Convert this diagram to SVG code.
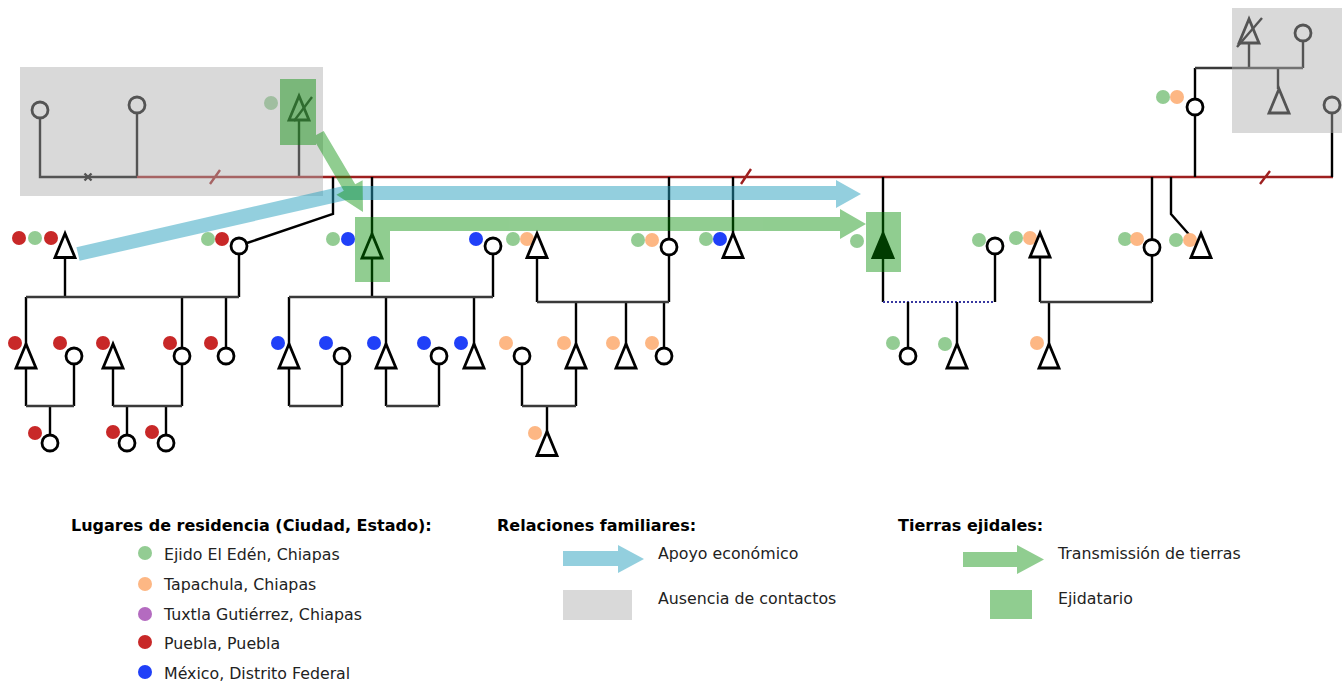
<svg xmlns="http://www.w3.org/2000/svg" xmlns:xlink="http://www.w3.org/1999/xlink" width="1343" height="683" viewBox="0 0 1343 683">
<style>
.ln{fill:none;stroke:#000;stroke-width:2.4}
.sib{fill:none;stroke:#3a3a3a;stroke-width:2.4}
.red{fill:none;stroke:#9e2020;stroke-width:2.4}
.dot{fill:none;stroke:#3838a0;stroke-width:2;stroke-dasharray:2,2}
.c{fill:#fff;stroke:#000;stroke-width:2.8}
.t{fill:#fff;stroke:#000;stroke-width:2.8;stroke-linejoin:miter}
.tf{fill:#000;stroke:#000;stroke-width:2.8}
.g{fill:#93cc93}.o{fill:#fdb784}.p{fill:#b46bc0}.r{fill:#c82828}.b{fill:#2040f8}
.grey{fill:#b0b0b0;opacity:0.48}
.green{fill:rgb(0,140,0)}
.blue{fill:rgb(40,160,190)}
.hd{font-family:"DejaVu Sans","Liberation Sans",sans-serif;font-weight:bold;font-size:16px;fill:#000}
.tx{font-family:"DejaVu Sans","Liberation Sans",sans-serif;font-size:15.8px;fill:#222}
</style>
<defs>
<path id="tri" d="M0,-12 L-10,12 L10,12 Z"/>
</defs>
<rect width="1343" height="683" fill="#fff"/>

<g id="connectors">
<path class="ln" d="M40,118 V177 H137 M137,113 V177 M299,120 V177"/>
<path class="ln" d="M84.5,173.5 L91.5,180.5 M91.5,173.5 L84.5,180.5"/>
<path class="red" d="M137,177 H1333 M210,184 L220,170 M741,184 L751,169 M1260,184 L1270,171"/>
<path class="ln" d="M333,177 V214 L247,243"/>
<path class="ln" d="M372,177 V234 M372,257 V297 M493,254 V297 M289,297 V345 M386,297 V345 M474,297 V345"/>
<path class="sib" d="M289,297 H493"/>
<path class="ln" d="M289,367 V406 M342,364 V406 M386,367 V406 M439,364 V406"/>
<path class="sib" d="M289,406 H342 M386,406 H439"/>
<path class="ln" d="M669,177 V238 M669,255 V302 M537,257 V302 M576,302 V345 M626,302 V345 M664,302 V348"/>
<path class="sib" d="M537,302 H669"/>
<path class="ln" d="M522,364 V406 M576,367 V406 M547,406 V432"/>
<path class="sib" d="M522,406 H576"/>
<path class="ln" d="M733,177 V234"/>
<path class="ln" d="M883,177 V302"/>
<path class="dot" d="M883,302 H995"/>
<path class="ln" d="M995,254 V302 M908,302 V348 M957,302 V345"/>
<path class="ln" d="M1152,177 V239 M1152,256 V302 M1040,257 V302 M1049,302 V345"/>
<path class="sib" d="M1040,302 H1152"/>
<path class="ln" d="M1171,177 V214 L1193,239"/>
<path class="ln" d="M1195,177 V115 M1195,99 V68 M1303,41 V68 M1249,43 V68 M1278,68 V89 M1332,177 V113"/>
<path class="sib" d="M1195,68 H1303"/>
<path class="ln" d="M65,257 V297 M239,254 V297 M26,297 V345 M182,297 V348 M226,297 V348"/>
<path class="sib" d="M26,297 H239"/>
<path class="ln" d="M26,367 V406 M74,364 V406 M50,406 V435 M113,367 V406 M182,364 V406 M127,406 V435 M166,406 V435"/>
<path class="sib" d="M26,406 H74 M113,406 H182"/>
</g>

<g id="n_g1a"><circle class="c" cx="40" cy="110" r="8"/></g>
<g id="n_g1b"><circle class="c" cx="137" cy="105" r="8"/></g>
<g id="n_g1c"><circle class="g" cx="271" cy="103" r="7"/><use href="#tri" class="t" x="299" y="108"/><path class="ln" d="M294,121 L312,97"/></g>

<g id="n_a1"><circle class="r" cx="19" cy="238" r="7"/><circle class="g" cx="35" cy="238" r="7"/><circle class="r" cx="51" cy="238" r="7"/><use href="#tri" class="t" x="65" y="245.5"/></g>
<g id="n_a2"><circle class="g" cx="208" cy="239" r="7"/><circle class="r" cx="222" cy="239" r="7"/><circle class="c" cx="239" cy="246" r="8"/></g>
<g id="n_a3"><circle class="g" cx="333" cy="239" r="7"/><circle class="b" cx="348" cy="239" r="7"/><use href="#tri" class="t" x="372" y="246"/></g>
<g id="n_a4"><circle class="b" cx="476" cy="239" r="7"/><circle class="c" cx="493" cy="246" r="8"/></g>
<g id="n_a5"><circle class="g" cx="513" cy="239" r="7"/><circle class="o" cx="527" cy="239" r="7"/><use href="#tri" class="t" x="537" y="245.5"/></g>
<g id="n_a6"><circle class="g" cx="638" cy="240" r="7"/><circle class="o" cx="652" cy="240" r="7"/><circle class="c" cx="669" cy="247" r="8"/></g>
<g id="n_a7"><circle class="g" cx="706" cy="239" r="7"/><circle class="b" cx="720" cy="239" r="7"/><use href="#tri" class="t" x="733" y="245.5"/></g>
<g id="n_a8"><circle class="g" cx="857" cy="241" r="7"/><use href="#tri" class="tf" x="883" y="245.5"/></g>
<g id="n_a9"><circle class="g" cx="979" cy="240" r="7"/><circle class="c" cx="995" cy="246" r="8"/></g>
<g id="n_a10"><circle class="g" cx="1016" cy="238" r="7"/><circle class="o" cx="1030" cy="238" r="7"/><use href="#tri" class="t" x="1040" y="245"/></g>
<g id="n_a11"><circle class="g" cx="1125" cy="239" r="7"/><circle class="o" cx="1137" cy="239" r="7"/><circle class="c" cx="1152" cy="247.5" r="8"/></g>
<g id="n_a12"><circle class="g" cx="1176" cy="240" r="7"/><circle class="o" cx="1190" cy="240" r="7"/><use href="#tri" class="t" x="1201" y="245.5"/></g>

<g id="n_r1"><use href="#tri" class="t" x="1249" y="31"/><path class="ln" d="M1237,47 L1262,18"/></g>
<g id="n_r2"><circle class="c" cx="1303" cy="33" r="8"/></g>
<g id="n_r3"><circle class="g" cx="1163" cy="97" r="7"/><circle class="o" cx="1177" cy="97" r="7"/><circle class="c" cx="1195" cy="107" r="8"/></g>
<g id="n_r4"><use href="#tri" class="t" x="1279" y="101"/></g>
<g id="n_r5"><circle class="c" cx="1332" cy="105" r="8"/></g>

<g id="n_b1"><circle class="r" cx="15" cy="343" r="7"/><use href="#tri" class="t" x="26" y="356"/></g>
<g id="n_b2"><circle class="r" cx="60" cy="343" r="7"/><circle class="c" cx="74" cy="356" r="8"/></g>
<g id="n_b3"><circle class="r" cx="103" cy="343" r="7"/><use href="#tri" class="t" x="113" y="356"/></g>
<g id="n_b4"><circle class="r" cx="170" cy="343" r="7"/><circle class="c" cx="182" cy="356" r="8"/></g>
<g id="n_b5"><circle class="r" cx="211" cy="343" r="7"/><circle class="c" cx="226" cy="356" r="8"/></g>
<g id="n_b6"><circle class="b" cx="278" cy="343" r="7"/><use href="#tri" class="t" x="289" y="356"/></g>
<g id="n_b7"><circle class="b" cx="326" cy="343" r="7"/><circle class="c" cx="342" cy="356" r="8"/></g>
<g id="n_b8"><circle class="b" cx="374" cy="343" r="7"/><use href="#tri" class="t" x="386" y="356"/></g>
<g id="n_b9"><circle class="b" cx="424" cy="343" r="7"/><circle class="c" cx="439" cy="356" r="8"/></g>
<g id="n_b10"><circle class="b" cx="461" cy="343" r="7"/><use href="#tri" class="t" x="474" y="356"/></g>
<g id="n_b11"><circle class="o" cx="506" cy="343" r="7"/><circle class="c" cx="522" cy="356" r="8"/></g>
<g id="n_b12"><circle class="o" cx="564" cy="343" r="7"/><use href="#tri" class="t" x="576" y="356"/></g>
<g id="n_b13"><circle class="o" cx="613" cy="343" r="7"/><use href="#tri" class="t" x="626" y="356"/></g>
<g id="n_b14"><circle class="o" cx="652" cy="343" r="7"/><circle class="c" cx="664" cy="356" r="8"/></g>
<g id="n_b15"><circle class="g" cx="893" cy="343" r="7"/><circle class="c" cx="908" cy="356" r="8"/></g>
<g id="n_b16"><circle class="g" cx="945" cy="344" r="7"/><use href="#tri" class="t" x="957" y="356"/></g>
<g id="n_b17"><circle class="o" cx="1037" cy="343" r="7"/><use href="#tri" class="t" x="1049" y="356"/></g>

<g id="n_c1"><circle class="r" cx="35" cy="433" r="7"/><circle class="c" cx="50" cy="443" r="8"/></g>
<g id="n_c2"><circle class="r" cx="113" cy="432" r="7"/><circle class="c" cx="127" cy="443" r="8"/></g>
<g id="n_c3"><circle class="r" cx="152" cy="432" r="7"/><circle class="c" cx="166" cy="443" r="8"/></g>
<g id="n_c4"><circle class="o" cx="535" cy="433" r="7"/><use href="#tri" class="t" x="547" y="443.5"/></g>

<g id="no_contact">
<rect class="grey" x="20" y="67" width="303" height="129"/>
<rect class="grey" x="1232" y="8" width="110" height="125"/>
</g>
<g id="support" opacity="0.5">
<path class="blue" d="M76.4,247.2 L343.4,186 L836,186 L836,180 L861,194 L836,208 L836,200 L346.6,200 L79.6,260.8 Z"/>
</g>
<g id="land" opacity="0.43">
<rect class="green" x="280" y="79" width="36" height="66"/>
<rect class="green" x="355" y="217" width="35" height="65"/>
<rect class="green" x="866" y="212" width="35" height="60"/>
<path class="green" d="M312.3,137.1 L323.7,130.9 L355.2,184.3 L362.6,180.3 L363,212 L336.4,194.7 L343.8,190.7 Z"/>
<path class="green" d="M390,217 H840 V209 L866,224 L840,239 V231 H390 Z"/>
</g>

<g id="legend_residence">
<text class="hd" x="71" y="531">Lugares de residencia (Ciudad, Estado):</text>
<circle class="g" cx="145" cy="553" r="7"/><text class="tx" x="164" y="560">Ejido El Edén, Chiapas</text>
<circle class="o" cx="145" cy="584" r="7"/><text class="tx" x="164" y="590">Tapachula, Chiapas</text>
<circle class="p" cx="145" cy="614" r="7"/><text class="tx" x="164" y="620">Tuxtla Gutiérrez, Chiapas</text>
<circle class="r" cx="145" cy="642" r="7"/><text class="tx" x="164" y="649">Puebla, Puebla</text>
<circle class="b" cx="145" cy="672" r="7"/><text class="tx" x="164" y="679">México, Distrito Federal</text>
</g>
<g id="legend_relations">
<text class="hd" x="497" y="531">Relaciones familiares:</text>
<g opacity="0.5"><path class="blue" d="M563,551 H618 V545 L644,559 L618,573 V566 H563 Z"/></g>
<text class="tx" x="658" y="559">Apoyo económico</text>
<rect class="grey" x="563" y="590" width="69" height="30"/>
<text class="tx" x="658" y="604">Ausencia de contactos</text>
</g>
<g id="legend_land">
<text class="hd" x="898" y="531">Tierras ejidales:</text>
<g opacity="0.43"><path class="green" d="M963,552 H1017 V545 L1044,559.5 L1017,574 V567 H963 Z"/><rect class="green" x="990" y="590" width="42" height="29"/></g>
<text class="tx" x="1058" y="559">Transmissión de tierras</text>
<text class="tx" x="1058" y="604">Ejidatario</text>
</g>
</svg>
